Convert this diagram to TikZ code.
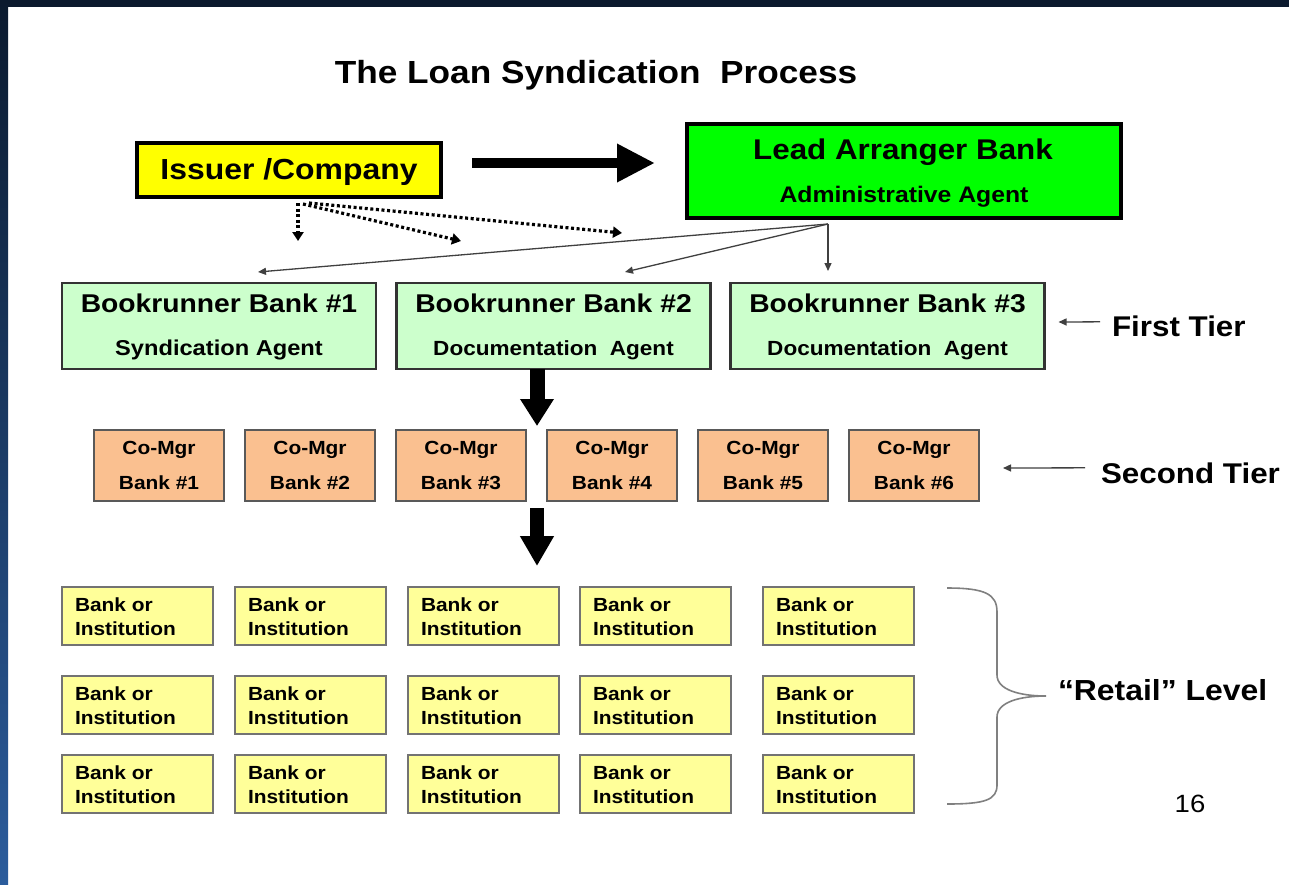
\documentclass[tikz,border=0pt]{standalone}
\usepackage{fontspec}
\setmainfont{Liberation Sans}[FakeStretch=1.1]
\usetikzlibrary{arrows.meta}
\newcommand\myfs[1]{\fontsize{#1}{#1}\selectfont}
\definecolor{navybg}{HTML}{0B1A2E}
\definecolor{bluebg}{HTML}{2B5C9C}
\definecolor{issY}{HTML}{FFFF00}
\definecolor{leadG}{HTML}{00FF00}
\definecolor{bookG}{HTML}{CCFFCC}
\definecolor{coP}{HTML}{FAC090}
\definecolor{bankY}{HTML}{FFFF99}
\begin{document}
\begin{tikzpicture}[x=1pt,y=-1pt,
  box/.style={rectangle, inner sep=0pt, outer sep=0pt},
  txt/.style={inner sep=0pt, outer sep=0pt, font=\bfseries},
  thinarrow/.style={draw=black!75, line width=1.3pt, -{Triangle[length=8pt,width=7pt]}},
  dotarrow/.style={line width=3.2pt, dash pattern=on 3pt off 2.6pt, -{Triangle[length=9pt,width=11pt]}},
  bookbox/.style={box, draw=black!80, line width=2.5pt, fill=bookG, minimum width=314pt, minimum height=86pt},
  cobox/.style={box, draw=black!65, line width=2pt, fill=coP, minimum width=130pt, minimum height=71pt},
  bankbox/.style={box, draw=black!55, line width=2pt, fill=bankY, minimum width=151pt, minimum height=58pt}
]
% background
\fill[white] (0,0) rectangle (1289,884);
\fill[navybg] (0,0) rectangle (1289,7);
\shade[top color=navybg, bottom color=bluebg] (0,0) rectangle (8,884);
\useasboundingbox (0,0) rectangle (1289,884);

% title
\node[txt, anchor=base] (title) at (596,83.5) {\myfs{32}The Loan Syndication\ \ Process};

% issuer and lead
\node[box, draw=black, line width=3.5pt, fill=issY, minimum width=304pt, minimum height=54pt] (iss) at (289,170) {};
\node[txt, anchor=base] (isst) at (289,179.5) {\myfs{29}Issuer /Company};
\node[box, draw=black, line width=3.5pt, fill=leadG, minimum width=434pt, minimum height=94pt] (lead) at (904,171) {};
\node[txt, anchor=base] (leadt1) at (903,159) {\myfs{28.5}Lead Arranger Bank};
\node[txt, anchor=base] (leadt2) at (904,202) {\myfs{22.5}Administrative Agent};

\draw[line width=10pt, -{Triangle[length=38pt,width=36pt]}, shorten <=31pt, shorten >=32pt]
  ([yshift=7pt]iss.east) -- ([yshift=8pt]lead.west);

% bookrunners
\node[bookbox] (b1) at (219,326) {};
\node[bookbox] (b2) at (553.5,326) {};
\node[bookbox] (b3) at (887.5,326) {};
\node[txt, anchor=base] (b1t1) at (219,312) {\myfs{25.7}Bookrunner Bank \#1};
\node[txt, anchor=base] (b2t1) at (553.5,312) {\myfs{25.7}Bookrunner Bank \#2};
\node[txt, anchor=base] (b3t1) at (887.5,312) {\myfs{25.7}Bookrunner Bank \#3};
\node[txt, anchor=base] (b1t2) at (219,355.5) {\myfs{21.5}Syndication Agent};
\node[txt, anchor=base] (b2t2) at (553.5,355.5) {\myfs{20.5}Documentation\ \ Agent};
\node[txt, anchor=base] (b3t2) at (887.5,355.5) {\myfs{20.5}Documentation\ \ Agent};

% dotted arrows from issuer
\coordinate (d1) at (298,241);
\coordinate (d2) at (461,241);
\coordinate (d3) at (622,233);
\draw[dotarrow] ([xshift=9pt,yshift=-6pt]iss.south) -- (d1);
\draw[dotarrow] ([xshift=14pt,yshift=-7pt]iss.south) -- (d2);
\draw[dotarrow] ([xshift=20pt,yshift=-6pt]iss.south) -- (d3);

% thin arrows from lead
\draw[thinarrow] ([xshift=-76pt,yshift=-6pt]lead.south) -- ([xshift=39pt,yshift=11pt]b1.north);
\draw[thinarrow] ([xshift=-76pt,yshift=-6pt]lead.south) -- ([xshift=71.5pt,yshift=11pt]b2.north);
\draw[thinarrow] ([xshift=-76pt,yshift=-6pt]lead.south) -- ([xshift=-59.5pt,yshift=12pt]b3.north);

% first tier
\node[txt, anchor=base west] (ft) at (1112,336) {\myfs{28.5}First Tier};
\draw[thinarrow] ([xshift=-12pt,yshift=4pt]ft.west) -- ([xshift=14pt,yshift=4pt]b3.east);

% big down arrow 1
\coordinate (dn1) at (537,426);
\draw[line width=15pt, -{Triangle[length=27pt,width=32pt]}] ([xshift=-16.5pt]b2.south) -- (dn1);

% co-managers
\foreach \i/\cx in {1/159,2/310,3/461,4/612,5/763,6/914}{
  \node[cobox] (co\i) at (\cx,465.5) {};
  \node[txt, anchor=base] (co\i t1) at (\cx,454) {\myfs{19}Co-Mgr};
  \node[txt, anchor=base] (co\i t2) at (\cx,489) {\myfs{19}Bank \#\i};
}
\node[txt, anchor=base west] (st) at (1101,483) {\myfs{28.5}Second Tier};
\draw[thinarrow] ([xshift=-16pt,yshift=5pt]st.west) -- ([xshift=24pt,yshift=-2.5pt]co6.east);

% big down arrow 2
\coordinate (gap) at (537,508);
\coordinate (dn2) at (537,566);
\draw[line width=14pt, -{Triangle[length=30pt,width=32pt]}] (gap) -- (dn2);

% banks
\foreach \r/\cy in {1/616,2/705,3/784}{
  \foreach \c/\cx in {1/137.5,2/310.5,3/483.5,4/655.5,5/838.5}{
    \node[bankbox] (bk\r\c) at (\cx,\cy) {};
    \node[txt, anchor=base west] (bk\r\c a) at ([xshift=13pt,yshift=-24pt]bk\r\c.north west) {\myfs{19}Bank or};
    \node[txt, anchor=base west] (bk\r\c b) at ([xshift=13pt,yshift=-48pt]bk\r\c.north west) {\myfs{19}Institution};
  }
}

% brace
\draw[black!50, line width=1.6pt] (947,588) .. controls (985,588) and (997,594) .. (997,612)
  -- (997,675) .. controls (997,690) and (1020,696) .. (1046,696)
  .. controls (1020,696) and (997,702) .. (997,717)
  -- (997,785) .. controls (997,800) and (985,804) .. (947,804);
\node[txt, anchor=base west] (retail) at (1058,700) {\myfs{29}“Retail” Level};
\node[inner sep=0pt, anchor=base] (pg) at (1190,812) {\myfs{25}16};
\end{tikzpicture}
\end{document}
